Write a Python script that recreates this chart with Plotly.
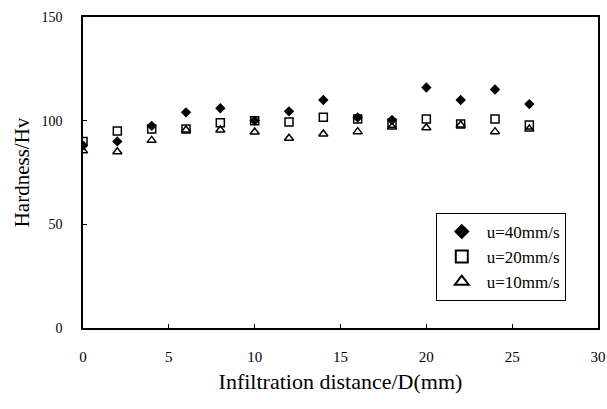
import plotly.graph_objects as go

distance = [0, 2, 4, 6, 8, 10, 12, 14, 16, 18, 20, 22, 24, 26]
u40 = [88, 90, 97.5, 104, 106, 100, 104.5, 110, 101.5, 100.3, 116, 110, 115, 108]
u20 = [90, 95, 96, 96, 99, 100, 99.4, 101.6, 100.8, 98.7, 100.8, 98.4, 100.8, 97.9]
u10 = [85.5, 85, 90.5, 95.5, 95.5, 94.5, 91.5, 93.6, 94.7, 97, 96.6, 97.9, 94.7, 96]

series_names = ["u=40mm/s", "u=20mm/s", "u=10mm/s"]
x_ticks = [0, 5, 10, 15, 20, 25, 30]
y_ticks = [0, 50, 100, 150]

serif = "Liberation Serif, Times New Roman, serif"

fig = go.Figure()
fig.add_trace(go.Scatter(x=distance, y=u40, mode="markers", name=series_names[0],
                         marker=dict(symbol="diamond", size=8, color="black")))
fig.add_trace(go.Scatter(x=distance, y=u20, mode="markers", name=series_names[1],
                         marker=dict(symbol="square-open", size=8, color="black",
                                     line=dict(width=1.5, color="black"))))
fig.add_trace(go.Scatter(x=distance, y=u10, mode="markers", name=series_names[2],
                         marker=dict(symbol="triangle-up-open", size=8, color="black",
                                     line=dict(width=1.5, color="black"))))

fig.update_layout(
    width=607, height=409,
    margin=dict(l=83, r=9, t=17, b=81),
    paper_bgcolor="white", plot_bgcolor="white",
    font=dict(family=serif, size=15, color="black"),
    legend=dict(x=0.685, y=0.37, xanchor="left", yanchor="top",
                bordercolor="black", borderwidth=1, bgcolor="white",
                font=dict(family=serif, size=17), itemsizing="constant",
                tracegroupgap=0, itemwidth=40),
    showlegend=True,
)
fig.update_xaxes(range=[0, 30], tickvals=x_ticks, showgrid=False, zeroline=False,
                 showline=True, linecolor="black", linewidth=1.5, mirror=True,
                 ticks="inside", ticklen=4, tickcolor="black", automargin=False,
                 ticklabeloverflow="allow",
                 ticklabelstandoff=14, tickfont=dict(size=15),
                 title=dict(text="Infiltration distance/D(mm)", font=dict(size=22), standoff=10))
fig.update_yaxes(range=[0, 150], tickvals=y_ticks, showgrid=False, zeroline=False,
                 showline=True, linecolor="black", linewidth=1.5, mirror=True,
                 ticks="inside", ticklen=4, tickcolor="black", automargin=False,
                 ticklabeloverflow="allow",
                 ticklabelstandoff=16, tickfont=dict(size=14),
                 title=dict(text="Hardness/Hv", font=dict(size=21), standoff=6))

# Remove the browser's default 8px body margin so the figure fills the window.
fig.write_html("out.html", config={"displayModeBar": False},
               post_script="document.body.style.margin='0';")
